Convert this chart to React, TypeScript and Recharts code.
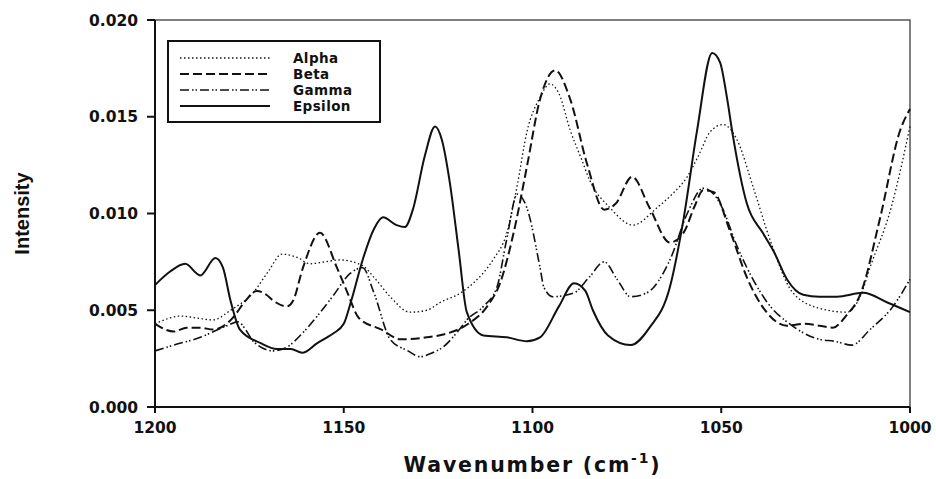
import { LineChart, Line, XAxis, YAxis, ReferenceArea, Legend } from "recharts";

const FONT = "'DejaVu Sans', sans-serif";

// [wavenumber, intensity]
const alphaPoints: [number, number][] = [
  [1200, 0.0043], [1196, 0.0046], [1193.4, 0.0047], [1189, 0.0046], [1184.6, 0.0045],
  [1180, 0.005], [1174, 0.0059], [1170, 0.007], [1166.4, 0.0079], [1162, 0.0077],
  [1159, 0.0074], [1155, 0.0075], [1151, 0.0076], [1145, 0.0073], [1142, 0.0067],
  [1137.7, 0.0057], [1132.5, 0.0049], [1128, 0.005], [1124.5, 0.0054], [1119, 0.0059],
  [1115.7, 0.0064], [1110.5, 0.0076], [1106.8, 0.009], [1104, 0.0115], [1101.5, 0.0142],
  [1098, 0.016], [1095.4, 0.0167], [1093, 0.0162], [1090, 0.0143], [1087, 0.0128],
  [1084.8, 0.0117], [1079.5, 0.0103], [1073.4, 0.0094], [1067, 0.0103], [1063, 0.011],
  [1059, 0.0119], [1056, 0.013], [1053, 0.0142], [1049.5, 0.0146], [1045.8, 0.0138],
  [1041.6, 0.0114], [1037, 0.0086], [1031, 0.0059], [1024, 0.0051], [1016.7, 0.0049],
  [1013, 0.0058], [1010.6, 0.0072], [1005, 0.0103], [1000, 0.0145],
];

const betaPoints: [number, number][] = [
  [1200, 0.0043], [1195, 0.0039], [1191.6, 0.0041], [1188, 0.0041], [1184.6, 0.004],
  [1181, 0.0043], [1179, 0.0047], [1176, 0.0055], [1173, 0.006], [1170.5, 0.0058],
  [1168.7, 0.0055], [1165, 0.0052], [1163.4, 0.0055], [1160.8, 0.0072], [1156.3, 0.009],
  [1151.8, 0.0072], [1149, 0.0059], [1146, 0.0046], [1140, 0.004], [1135, 0.0035],
  [1128, 0.0036], [1122.6, 0.0038], [1117, 0.0043], [1112, 0.0052], [1108.6, 0.0064],
  [1105, 0.009], [1101.5, 0.0124], [1098, 0.0159], [1094, 0.0174], [1090, 0.0159],
  [1085.6, 0.0126], [1081, 0.0102], [1078, 0.0105], [1073.6, 0.0119], [1069, 0.0103],
  [1063.6, 0.0085], [1060, 0.009], [1057, 0.0104], [1054.8, 0.0112], [1052, 0.0111],
  [1047.7, 0.0091], [1043, 0.0066], [1038, 0.0049], [1032.6, 0.0042], [1028, 0.0043],
  [1024, 0.0042], [1020.4, 0.0041], [1017, 0.0047], [1013, 0.0059], [1008, 0.0097],
  [1002.6, 0.0143], [1000, 0.0154],
];

const gammaPoints: [number, number][] = [
  [1200, 0.0029], [1195, 0.0032], [1188, 0.0036], [1181, 0.0042], [1178, 0.0044],
  [1176, 0.004], [1174, 0.0034], [1168.7, 0.0029], [1165, 0.0031], [1161, 0.0038],
  [1157, 0.0047], [1153, 0.0057], [1148.3, 0.0069], [1145, 0.0072], [1142, 0.0059],
  [1137.7, 0.0035], [1133, 0.0029], [1129.8, 0.0026], [1126.5, 0.0028], [1123.7, 0.0031],
  [1119, 0.0041], [1117.4, 0.0045], [1113, 0.0052], [1109.4, 0.0062], [1107, 0.0085],
  [1104, 0.011], [1101.5, 0.0103], [1098, 0.0072], [1097, 0.0062], [1094.6, 0.0057],
  [1089, 0.0059], [1085, 0.0067], [1081, 0.0075], [1077.6, 0.0066], [1074, 0.0057],
  [1069.7, 0.0059], [1063.6, 0.0076], [1059, 0.01], [1054.8, 0.0113], [1052, 0.011],
  [1050, 0.0104], [1045.8, 0.0083], [1041.6, 0.0066], [1037, 0.0052], [1032.6, 0.0044],
  [1024, 0.0035], [1020, 0.0034], [1015.4, 0.0032], [1010.6, 0.004], [1004.5, 0.0052],
  [1000, 0.0066],
];

const epsilonPoints: [number, number][] = [
  [1200, 0.0063], [1196, 0.007], [1192, 0.0074], [1188, 0.0068], [1184, 0.0077],
  [1182, 0.0072], [1180, 0.0055], [1177.5, 0.004], [1172, 0.0033], [1167.7, 0.003],
  [1164, 0.003], [1161, 0.0028], [1157, 0.0033], [1154.4, 0.0036], [1152.8, 0.0038],
  [1150, 0.0043], [1148, 0.0055], [1145, 0.0076], [1142, 0.0092], [1139.6, 0.0098],
  [1136, 0.0094], [1133.8, 0.0093], [1131.7, 0.0102], [1128.5, 0.013], [1125.8, 0.0145],
  [1124, 0.0138], [1121.9, 0.0116], [1119.5, 0.008], [1117.4, 0.0049], [1113, 0.0037],
  [1106.8, 0.0036], [1101.5, 0.0034], [1098, 0.0036], [1093, 0.0052], [1089, 0.0064],
  [1086, 0.006], [1084, 0.005], [1080, 0.0037], [1074, 0.0032], [1069, 0.0041],
  [1063.6, 0.0062], [1060, 0.0097], [1056.4, 0.0143], [1052.4, 0.0183], [1050.3, 0.0178],
  [1048.5, 0.016], [1046.9, 0.014], [1043.2, 0.0105], [1039, 0.009], [1036, 0.008],
  [1032.6, 0.0066], [1028.3, 0.0058], [1024, 0.0057], [1019.3, 0.0057], [1012.4, 0.0059],
  [1006, 0.0054], [1000, 0.0049],
];

const xTicks = [1200, 1150, 1100, 1050, 1000];
const yTicks = [0, 0.005, 0.01, 0.015, 0.02];

const series = [
  { name: "Alpha", points: alphaPoints, dash: "1.5 2.5", width: 1.3 },
  { name: "Beta", points: betaPoints, dash: "9 4", width: 2 },
  { name: "Gamma", points: gammaPoints, dash: "9 3 1.5 2 1.5 3", width: 1.6 },
  { name: "Epsilon", points: epsilonPoints, dash: undefined, width: 2 },
];

function LegendBox() {
  return (
    <div style={{ border: "2px solid #111", width: 214, height: 83, boxSizing: "border-box", background: "#fff" }}>
      <svg width={210} height={79}>
        {series.map((s, i) => (
          <g key={s.name}>
            <line x1={11} x2={101} y1={16 + i * 16} y2={16 + i * 16} stroke="#111"
              strokeWidth={s.width} strokeDasharray={s.dash} />
            <text x={124} y={16 + i * 16} dy="0.36em" fontFamily={FONT} fontWeight="bold"
              fontSize={13.5} letterSpacing={0.4} fill="#111">{s.name}</text>
          </g>
        ))}
      </svg>
    </div>
  );
}

const tickStyle = { fontFamily: FONT, fontWeight: "bold", fontSize: 15.5, fill: "#111" };

export default function App() {
  return (
    <div style={{ position: "absolute", left: 0, top: 0, background: "#fff" }}>
      <LineChart width={936} height={479} margin={{ top: 20, right: 26, bottom: 0, left: 0 }}>
        <ReferenceArea x1={1200} x2={1000} y1={0} y2={0.02} fill="none" stroke="#555" strokeWidth={1.5} />
        <XAxis dataKey="x" type="number" domain={[1000, 1200]} reversed ticks={xTicks}
          allowDuplicatedCategory={false} height={72} tickSize={6} tickMargin={9}
          stroke="#111" strokeWidth={2} tick={tickStyle}
          label={({ viewBox }: any) => (
            <text x={viewBox.x + viewBox.width / 2} y={viewBox.y + 65} textAnchor="middle"
              fontFamily={FONT} fontWeight="bold" fontSize={20.5} letterSpacing={1.8} fill="#111">
              Wavenumber (cm<tspan fontSize={14} dy={-9}>-1</tspan><tspan dy={9}>)</tspan>
            </text>
          )} />
        <YAxis type="number" domain={[0, 0.02]} ticks={yTicks} width={155} tickSize={8} tickMargin={9}
          stroke="#111" strokeWidth={2} tick={tickStyle} tickFormatter={(v: number) => v.toFixed(3)}
          label={({ viewBox }: any) => (
            <text x={22} y={viewBox.y + viewBox.height / 2} textAnchor="middle" dominantBaseline="central"
              transform={`rotate(-90 22 ${viewBox.y + viewBox.height / 2})`}
              fontFamily="'Liberation Sans', Arial, sans-serif" fontWeight="bold" fontSize={20} fill="#111">
              Intensity
            </text>
          )} />
        <Legend layout="horizontal" verticalAlign="middle" align="center"
          wrapperStyle={{ left: 167, top: 40, width: 214, height: 83 }} content={() => <LegendBox />} />
        {series.map((s) => (
          <Line key={s.name} name={s.name} data={s.points.map(([x, y]) => ({ x, y }))} dataKey="y"
            type="monotone" stroke="#111" strokeWidth={s.width} strokeDasharray={s.dash}
            dot={false} activeDot={false} isAnimationActive={false} />
        ))}
      </LineChart>
    </div>
  );
}
